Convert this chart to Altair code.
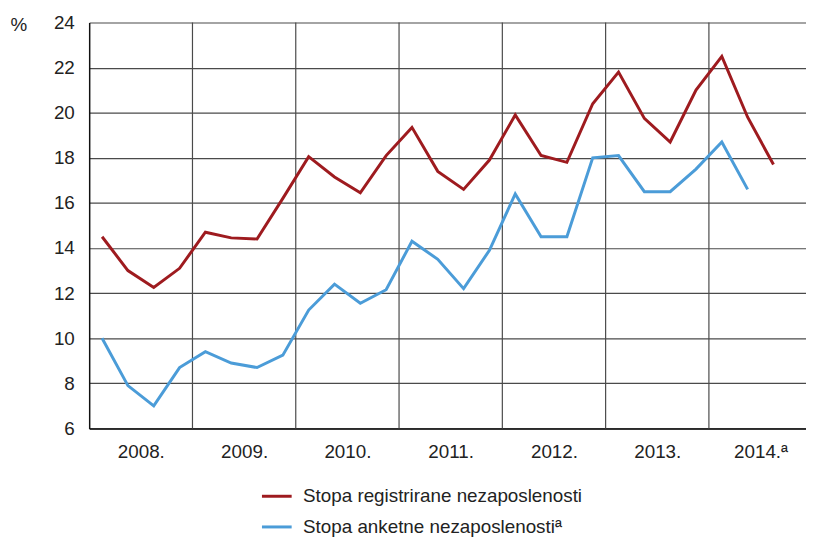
import altair as alt
import pandas as pd

years = [2008, 2009, 2010, 2011, 2012, 2013, 2014]
x_labels = ["2008.", "2009.", "2010.", "2011.", "2012.", "2013.", "2014.ª"]
series_names = ["Stopa registrirane nezaposlenosti", "Stopa anketne nezaposlenostiª"]
series_colors = ["#9e1b1f", "#4b9cd8"]

registered = [14.5, 13.0, 12.25, 13.1,
              14.7, 14.45, 14.4, 16.2,
              18.05, 17.15, 16.45, 18.1,
              19.35, 17.4, 16.6, 17.9,
              19.9, 18.1, 17.8, 20.4,
              21.8, 19.75, 18.7, 21.0,
              22.5, 19.8, 17.7]
survey = [10.0, 7.9, 7.0, 8.7,
          9.4, 8.9, 8.7, 9.25,
          11.25, 12.4, 11.55, 12.15,
          14.3, 13.5, 12.2, 13.9,
          16.4, 14.5, 14.5, 18.0,
          18.1, 16.5, 16.5, 17.5,
          18.7, 16.6]

rows = []
for name, vals in zip(series_names, [registered, survey]):
    for i, v in enumerate(vals):
        year = years[0] + i // 4
        q = i % 4 + 1
        rows.append({"series": name, "t": year + (q - 0.5) / 4, "value": v})
df = pd.DataFrame(rows)

bounds = pd.DataFrame({"b": years[1:]})
label_pos = [y + 0.5 for y in years]
label_arr = "[" + ",".join("'" + s + "'" for s in x_labels) + "]"

FONT = "Liberation Sans"
FS = 19

x_scale = alt.Scale(domain=[2008, 2014.94], nice=False, zero=False)
y_scale = alt.Scale(domain=[6, 24], nice=False, zero=False)

rules = alt.Chart(bounds).mark_rule(color="#4a4a4a", strokeWidth=1.2).encode(
    x=alt.X("b:Q", scale=x_scale)
)

lines = alt.Chart(df).mark_line(strokeWidth=3).encode(
    x=alt.X("t:Q", scale=x_scale,
            axis=alt.Axis(values=label_pos, labelExpr=label_arr + "[floor(datum.value) - 2008]",
                          grid=False, ticks=False, title=None, labelFontSize=FS,
                          labelFont=FONT, labelColor="#222222", labelPadding=14,
                          domainColor="#111111", domainWidth=1.5)),
    y=alt.Y("value:Q", scale=y_scale,
            axis=alt.Axis(values=list(range(6, 25, 2)), grid=True, gridColor="#4a4a4a",
                          gridWidth=1.2, ticks=False, labelFontSize=FS, labelFont=FONT,
                          labelColor="#222222", labelPadding=15,
                          domainColor="#111111", domainWidth=1.5,
                          title="%", titleAngle=0, titleX=-80, titleY=8,
                          titleAlign="left", titleBaseline="alphabetic",
                          titleFontSize=FS, titleFont=FONT, titleFontWeight="normal",
                          titleColor="#222222")),
    color=alt.Color("series:N",
                    scale=alt.Scale(domain=series_names, range=series_colors),
                    sort=series_names,
                    legend=alt.Legend(title=None, orient="none", legendX=173, legendY=462,
                                      direction="vertical", symbolType="stroke",
                                      symbolSize=900, symbolStrokeWidth=3,
                                      labelFontSize=FS, labelFont=FONT,
                                      labelColor="#222222", labelOffset=10,
                                      rowPadding=4, labelLimit=600)),
    detail="series:N",
)

chart = alt.layer(rules, lines).properties(
    width=724, height=410,
    autosize=alt.AutoSizeParams(type="none"),
    padding={"left": 82, "top": 12, "right": 0, "bottom": 107},
).configure_view(stroke=None)

chart.save("out.html", embed_options={"renderer": "svg", "actions": False})
